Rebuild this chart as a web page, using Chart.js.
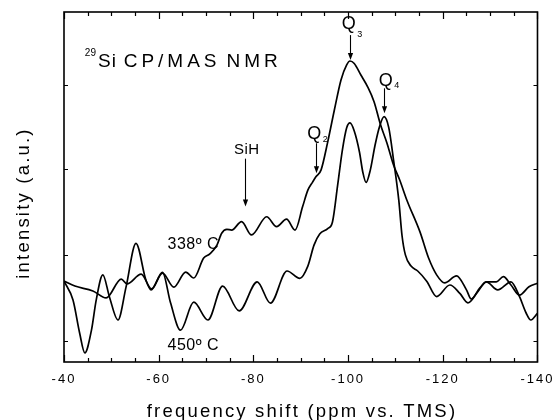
<!DOCTYPE html>
<html><head><meta charset="utf-8">
<script src="https://cdn.jsdelivr.net/npm/chart.js@4.4.1/dist/chart.umd.min.js"></script>
<style>html,body{margin:0;padding:0;background:#fff}#wrap{width:560px;height:420px}</style>
</head><body><div id="wrap"><canvas id="c" width="560" height="420"></canvas></div>
<script>
// ---- data (ppm vs. intensity, arbitrary units) ----
const ppm338 = [-40, -42.3, -46.1, -48.9, -52.1, -53.3, -56.3, -58.5, -60.8, -63.2, -65.7, -67.4, -69.5, -70.8, -72.3, -73.3, -74.4, -75.4, -77.5, -79.6, -82.8, -84.9, -87.0, -88.8, -90.4, -91.5, -92.5, -93.2, -94.3, -95.7, -97.1, -98.5, -99.7, -100.4, -101.3, -102.7, -104.1, -105.5, -106.8, -108.2, -109.6, -110.9, -112.4, -115.2, -117.0, -118.7, -120.4, -122.9, -125.0, -126.0, -127.8, -129.2, -131.3, -132.8, -134.4, -136.2, -138.2, -140];
const int338 = [23.1, 21.7, 20.3, 18.3, 23.7, 22.3, 25.1, 20.9, 25.4, 21.4, 25.7, 24.0, 29.7, 30.9, 33.4, 36.8, 37.9, 37.7, 40.1, 36.3, 41.5, 38.7, 40.8, 37.7, 44.4, 49.1, 51.4, 52.9, 54.9, 62.9, 72.0, 80.6, 84.9, 86.0, 85.3, 82.0, 78.7, 74.3, 68.0, 62.6, 56.3, 52.0, 46.3, 37.1, 29.7, 24.9, 22.6, 24.6, 20.6, 18.0, 21.1, 22.9, 22.9, 24.4, 22.0, 19.1, 21.5, 22.5];
const ppm450 = [-40, -41.9, -43.3, -44.4, -45.8, -46.8, -48.2, -49.6, -51.4, -53.1, -55.2, -57.3, -58.4, -60.8, -62.5, -64.6, -67.4, -70.4, -73.5, -77.0, -80.8, -83.6, -87.1, -89.8, -91.5, -92.8, -94.0, -95.7, -96.7, -97.8, -98.8, -99.7, -100.4, -101.3, -102.4, -103.1, -103.8, -104.7, -105.7, -106.6, -107.6, -108.6, -109.6, -110.7, -111.4, -112.1, -113.3, -114.7, -116.6, -118.7, -121.5, -123.6, -125.3, -127.4, -129.2, -131.6, -134.4, -136.2, -137.6, -138.6, -140];
const int450 = [23.1, 17.7, 8.3, 2.6, 9.1, 17.7, 24.9, 18.6, 12.0, 21.4, 33.9, 23.4, 20.6, 25.6, 16.9, 9.1, 17.1, 12.0, 21.7, 14.6, 22.9, 16.8, 26.0, 23.9, 27.4, 33.4, 36.6, 38.1, 40.0, 50.6, 60.6, 66.9, 68.3, 66.0, 60.0, 54.3, 51.3, 54.9, 62.0, 67.1, 70.1, 66.9, 57.7, 46.3, 36.0, 30.6, 27.4, 26.0, 23.1, 18.7, 22.0, 19.6, 16.9, 20.1, 22.9, 20.6, 22.9, 18.7, 14.0, 12.0, 13.9];
const xTickLabels = [-40, -60, -80, -100, -120, -140];
const yTickMarks = [6, 30.5, 55, 79];
const seriesLabels = ['338º C', '450º C'];

// ---- annotation config (data coordinates) ----
const peakArrows = [
  {label: 'SiH', sub: '', lx: -78.6, ly: 59.3, ax: -78.2, a0: 58.1, a1: 44.4, size: 15, subDy: 0},
  {label: 'Q', sub: '2', lx: -92.9, ly: 63.7, ax: -93.2, a0: 62.5, a1: 53.9, size: 18, subDy: 3},
  {label: 'Q', sub: '3', lx: -100.2, ly: 95.1, ax: -100.3, a0: 93.4, a1: 86.3, size: 18, subDy: 8},
  {label: 'Q', sub: '4', lx: -108.0, ly: 78.9, ax: -107.55, a0: 78.2, a1: 71.1, size: 18, subDy: 2}
];
const curveLabels = [
  {text: seriesLabels[0], x: -67.3, y: 32.3},
  {text: seriesLabels[1], x: -67.3, y: 3.4}
];
const nmrTitle = [
  {text: 'Si', x: -47.2, ls: 1},
  {text: 'CP/MAS', x: -52.6, ls: 4},
  {text: 'NMR', x: -74.3, ls: 4}
];

const FONT = "'Liberation Sans', Arial, Helvetica, sans-serif";

const spacingPlugin = {
  id: 'spacing',
  beforeDraw(chart) { chart.ctx.letterSpacing = '2px'; }
};

const decorPlugin = {
  id: 'decor',
  afterDraw(chart) {
    const {ctx, chartArea: a, scales: {x, y}} = chart;
    ctx.save();
    ctx.strokeStyle = '#000';
    ctx.fillStyle = '#000';
    // frame
    ctx.lineWidth = 1.6;
    ctx.strokeRect(a.left, a.top, a.right - a.left, a.bottom - a.top);
    // x ticks (inward, top and bottom)
    ctx.lineWidth = 1.2;
    for (let v = -140; v <= -40; v += 5) {
      const px = Math.round(x.getPixelForValue(v)) + 0.5;
      const L = (v % 20 === 0) ? 7 : 4;
      ctx.beginPath();
      ctx.moveTo(px, a.bottom); ctx.lineTo(px, a.bottom - L);
      ctx.moveTo(px, a.top); ctx.lineTo(px, a.top + L);
      ctx.stroke();
    }
    // y ticks (inward, left and right)
    yTickMarks.forEach(v => {
      const py = Math.round(y.getPixelForValue(v)) + 0.5;
      ctx.beginPath();
      ctx.moveTo(a.left, py); ctx.lineTo(a.left + 4, py);
      ctx.moveTo(a.right, py); ctx.lineTo(a.right - 4, py);
      ctx.stroke();
    });

    // axis titles
    ctx.letterSpacing = '2.2px';
    ctx.font = '18.5px ' + FONT;
    ctx.textAlign = 'center';
    ctx.textBaseline = 'alphabetic';
    ctx.fillText('frequency shift (ppm vs. TMS)', 302, 416.5);
    ctx.save();
    ctx.translate(29, 203);
    ctx.rotate(-Math.PI / 2);
    ctx.fillText('intensity (a.u.)', 0, 0);
    ctx.restore();

    // NMR title
    ctx.textAlign = 'left';
    ctx.letterSpacing = '0px';
    ctx.font = '10px ' + FONT;
    ctx.fillText('29', x.getPixelForValue(-44.4), y.getPixelForValue(87.4));
    ctx.font = '19px ' + FONT;
    nmrTitle.forEach(t => {
      ctx.letterSpacing = t.ls + 'px';
      ctx.fillText(t.text, x.getPixelForValue(t.x), y.getPixelForValue(84.3));
    });

    // curve labels
    ctx.letterSpacing = '0.5px';
    ctx.font = '16px ' + FONT;
    ctx.textAlign = 'center';
    curveLabels.forEach(c => ctx.fillText(c.text, x.getPixelForValue(c.x), y.getPixelForValue(c.y)));

    // peak labels + arrows
    peakArrows.forEach(p => {
      ctx.font = p.size + 'px ' + FONT;
      ctx.letterSpacing = '0.5px';
      ctx.textAlign = 'center';
      const lx = x.getPixelForValue(p.lx), ly = y.getPixelForValue(p.ly);
      ctx.fillText(p.label, lx, ly);
      if (p.sub) {
        const w = ctx.measureText(p.label).width;
        ctx.font = '9px ' + FONT;
        ctx.textAlign = 'left';
        ctx.fillText(p.sub, lx + w / 2 + 1, ly + p.subDy);
      }
      const ax = Math.round(x.getPixelForValue(p.ax)) + 0.5;
      const y0 = y.getPixelForValue(p.a0), y1 = y.getPixelForValue(p.a1);
      ctx.lineWidth = 1.1;
      ctx.beginPath();
      ctx.moveTo(ax, y0); ctx.lineTo(ax, y1 - 5);
      ctx.stroke();
      ctx.beginPath();
      ctx.moveTo(ax - 2.6, y1 - 7); ctx.lineTo(ax + 2.6, y1 - 7); ctx.lineTo(ax, y1);
      ctx.closePath(); ctx.fill();
    });
    ctx.restore();
  }
};

const mk = (xs, ys) => xs.map((v, i) => ({x: v, y: ys[i]}));

new Chart(document.getElementById('c'), {
  type: 'line',
  data: {
    datasets: [
      {label: seriesLabels[0], data: mk(ppm338, int338), borderColor: '#000', borderWidth: 1.7, pointRadius: 0, fill: false, cubicInterpolationMode: 'monotone'},
      {label: seriesLabels[1], data: mk(ppm450, int450), borderColor: '#000', borderWidth: 1.7, pointRadius: 0, fill: false, cubicInterpolationMode: 'monotone'}
    ]
  },
  options: {
    responsive: false,
    animation: false,
    devicePixelRatio: 1,
    layout: {padding: {left: 64, top: 12, right: 18, bottom: 0}},
    plugins: {legend: {display: false}, tooltip: {enabled: false}},
    scales: {
      x: {
        type: 'linear', min: -140, max: -40, reverse: true,
        afterFit(s) { s.height = 58; },
        afterBuildTicks(s) { s.ticks = xTickLabels.map(v => ({value: v})); },
        grid: {display: false, drawTicks: false},
        border: {display: false},
        ticks: {color: '#000', font: {family: FONT, size: 13}, padding: 9.5, maxRotation: 0, autoSkip: false,
          callback: v => String(v)}
      },
      y: {type: 'linear', min: 0, max: 100, display: false}
    }
  },
  plugins: [spacingPlugin, decorPlugin]
});
</script>
</body></html>
